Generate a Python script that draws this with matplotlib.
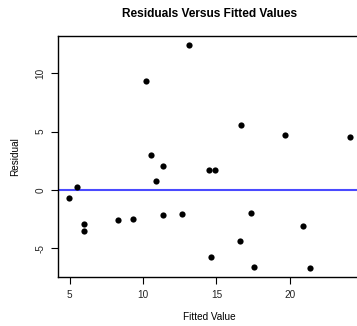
import matplotlib
matplotlib.use('Agg')
from matplotlib import pyplot as plt

# valori
fitted = [4.98, 5.52, 6.0, 6.0, 8.31, 9.33, 10.2, 10.56, 10.87, 11.33, 11.33,
          12.66, 13.1, 14.5, 14.66, 14.93, 16.59, 16.65, 17.38, 17.52, 19.67,
          20.92, 21.39, 24.07]
residuals = [-0.74, 0.2, -2.97, -3.55, -2.57, -2.49, 9.35, 2.97, 0.74, 2.03, -2.17,
             -2.12, 12.43, 1.66, -5.8, 1.66, -4.43, 5.52, -2.0, -6.63, 4.69,
             -3.14, -6.72, 4.52]
x_ticks = [5, 10, 15, 20]
y_ticks = [-5, 0, 5, 10]

plt.rcParams['font.family'] = ['Liberation Sans', 'DejaVu Sans']

fig = plt.figure(figsize=(3.57, 3.26), dpi=100)
ax = fig.add_axes([58 / 357, 1 - 277 / 326, 303 / 357, 241 / 326])

ax.scatter(fitted, residuals, s=20, color='black', zorder=3, linewidths=0)
ax.axhline(0, color='#4a4aff', linewidth=1.5, zorder=2)

# margini del 4% come in R
xr = max(fitted) - min(fitted)
yr = max(residuals) - min(residuals)
ax.set_xlim(min(fitted) - 0.04 * xr, max(fitted) + 0.04 * xr)
ax.set_ylim(min(residuals) - 0.04 * yr, max(residuals) + 0.04 * yr)

ax.set_xticks(x_ticks)
ax.set_yticks(y_ticks)
ax.set_xticklabels([str(t) for t in x_ticks], fontsize=7.2, color='#222222')
ax.set_yticklabels([str(t) for t in y_ticks], fontsize=7.2, color='#222222',
                   rotation=90, va='center')
ax.tick_params(direction='out', length=5, width=0.8, pad=4)

for sp in ax.spines.values():
    sp.set_linewidth(1.0)
# il bordo destro cade fuori dall'immagine
ax.spines['right'].set_visible(False)

ax.set_xlabel('Fitted Value', fontsize=7.2, labelpad=9)
ax.set_ylabel('Residual', fontsize=7.2, labelpad=11)
fig.text((58 + 361) / 2 / 357, 1 - 14 / 326, 'Residuals Versus Fitted Values',
         fontsize=8.6, fontweight='bold', ha='center', va='center')

fig.savefig('out.png', dpi=100)
